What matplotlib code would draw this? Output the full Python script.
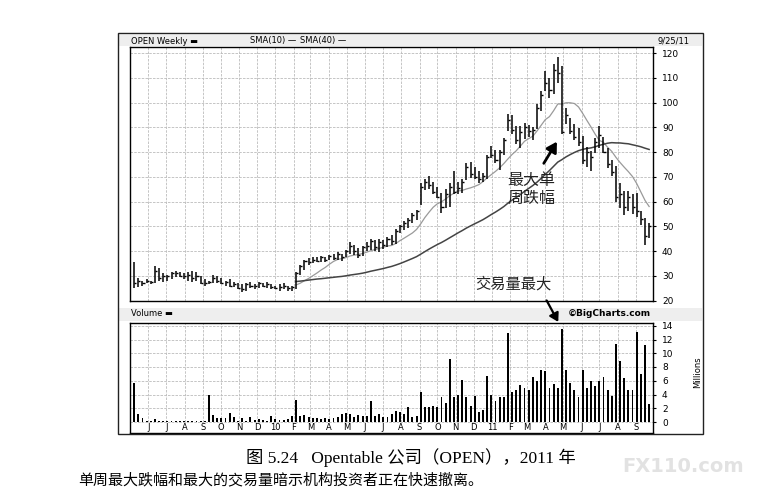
import matplotlib
matplotlib.use("Agg")
import matplotlib.pyplot as plt
import matplotlib.dates as mdates
from matplotlib.patches import Rectangle
import numpy as np
import pandas as pd

# weekly bars for OPEN, last week ending 9/23/2011
last_week = "2011-09-23"
n_weeks = 125

highs = [
    35.5, 29, 28, 28.5, 28, 34, 33, 31, 30.5, 31.5,
    32, 31.5, 31, 31.5, 32, 31.5, 30, 28.5, 28, 30.5,
    30, 29, 28, 28.5, 27.5, 27, 26.5, 27, 27.5, 26.5,
    27.5, 27, 27.5, 26.5, 26, 26.5, 27, 26, 26, 31.5,
    34.5, 36.5, 37, 37.5, 37.5, 38, 37.5, 38.5, 39, 39.7,
    39, 40.5, 43.8, 42.5, 41.3, 42, 43.5, 45, 44.5, 45,
    44.5, 45.8, 46.5, 49, 50.7, 52, 53.3, 55.3, 56.7, 67.5,
    69, 70.2, 68, 66, 63.4, 65, 67.5, 72.2, 68, 69,
    75.6, 76, 74, 72.2, 71.5, 79, 82.4, 81, 81, 85.8,
    95.3, 95, 90.5, 90.5, 91.9, 91, 90, 99.3, 104.8, 112.9,
    110, 115.6, 118.3, 114.9, 97.9, 93.9, 91.5, 89.8, 86.5, 82,
    80.4, 85.8, 90.5, 86, 81.7, 77, 74.3, 67.5, 64.1, 64.1,
    63, 63.4, 56, 53.2, 51.2,
]
lows = [
    25, 25.5, 26, 27, 26.5, 27, 28, 27.5, 28, 28.5,
    29.5, 29.5, 28.5, 28, 27.5, 28, 26.5, 26, 26.5, 27,
    27, 26.5, 26, 25.5, 25.5, 24.5, 23.5, 24, 25, 24.5,
    25, 25.5, 25, 24.5, 24.5, 24, 24.5, 24, 24, 24.5,
    30.5, 32.5, 34.5, 35, 35.5, 35.5, 35.5, 36.3, 36.5, 36.5,
    36, 37.5, 39, 38.5, 37, 38, 40, 40.5, 40, 39.5,
    41, 41.7, 42.5, 43, 47.2, 48.5, 49.2, 51.2, 52.6, 58.7,
    64.5, 65, 63, 61.4, 55.3, 57.5, 58, 62.9, 63, 63.5,
    68.9, 69.5, 69, 67.5, 68, 69, 77.6, 75.5, 72.9, 79,
    88.5, 87.5, 83.1, 81.7, 85.1, 86, 85, 89.2, 96.6, 104.8,
    102, 103.4, 108.1, 87.2, 91.2, 87.2, 85, 82.4, 75, 74,
    72.2, 79.7, 81.7, 79.5, 73.6, 70.5, 60, 57.3, 54.6, 56,
    55, 53.9, 50.5, 42.4, 45.1,
]
closes = [
    27, 28, 27, 28, 27.5, 32, 29, 30, 30, 31,
    31, 30, 30, 30.5, 29, 30, 27, 27, 27.5, 29,
    28, 27, 27.5, 26, 26.5, 25, 24.5, 26.5, 26, 26,
    27, 26, 26.5, 25.5, 25, 25.5, 26, 25, 25.5, 31,
    34, 36, 35.5, 36.5, 36, 37.5, 36.5, 38, 37, 39,
    37.5, 40, 42, 40, 38.5, 41.5, 42, 44, 41.5, 43.5,
    42.5, 45, 44, 48, 50, 51.5, 52.5, 54.5, 56, 66,
    68, 66.5, 64, 62, 58, 63, 66, 64, 65.5, 68,
    74, 71, 70, 69, 70.5, 78, 79, 77, 80, 85,
    93, 89, 85, 88, 90, 88.5, 89, 98, 103, 108,
    105, 113, 112, 88, 95, 88.5, 86, 84, 77, 80,
    78, 84, 87, 80, 75, 72, 62, 63, 58, 62,
    58, 56, 53, 46, 50,
]
# weekly volume, millions of shares
volume = [
    5.7, 1.1, 0.6, 0.2, 0.2, 0.5, 0.2, 0.1, 0.1, 0.1,
    0.1, 0.2, 0.2, 0.2, 0.2, 0.2, 0.2, 0.2, 4.0, 1.0,
    0.6, 0.6, 0.6, 1.3, 0.8, 0.2, 0.6, 0.2, 0.7, 0.3,
    0.5, 0.3, 0.2, 0.9, 0.4, 0.3, 0.3, 0.5, 0.9, 3.2,
    0.9, 1.0, 0.7, 0.6, 0.6, 0.5, 0.6, 0.5, 0.6, 0.8,
    1.1, 1.3, 1.2, 0.8, 1.0, 0.9, 0.9, 3.0, 0.9, 1.1,
    0.8, 0.8, 1.1, 1.6, 1.5, 1.1, 2.2, 0.8, 0.9, 4.4,
    2.2, 2.2, 2.3, 2.2, 3.6, 2.8, 9.1, 3.7, 3.9, 6.1,
    3.7, 2.3, 3.8, 1.4, 1.7, 6.7, 4.0, 3.1, 3.7, 3.7,
    12.9, 4.4, 4.7, 5.4, 5.0, 4.7, 6.6, 6.0, 7.5, 7.4,
    5.0, 5.6, 4.9, 13.6, 7.6, 5.7, 4.7, 3.7, 7.6, 4.9,
    6.0, 5.2, 6.0, 6.6, 4.7, 3.8, 11.4, 8.9, 6.4, 4.7,
    4.7, 13.1, 7.0, 11.2, 2.6,
]
price_ticks = [20, 30, 40, 50, 60, 70, 80, 90, 100, 110, 120]
volume_ticks = [0, 2, 4, 6, 8, 10, 12, 14]

dates = pd.date_range(end=last_week, periods=n_weeks, freq="W-FRI")
x = mdates.date2num(dates)
close_s = pd.Series(closes)
sma40 = close_s.rolling(40).mean()
sma10 = close_s.rolling(10).mean().where(sma40.notna())

months = pd.date_range("2009-06-01", "2011-09-01", freq="MS")
month_x = mdates.date2num(months)
month_labels = [str(m.year)[2:] if m.month == 1 else m.strftime("%b")[0] for m in months]

W, H = 757, 494
fig = plt.figure(figsize=(W / 100, H / 100), dpi=100)
fig.patch.set_facecolor("white")


def fx(px):
    return px / W


def fy(py):
    return 1 - py / H


# outer chart frame and header strips
fig.add_artist(Rectangle((fx(118), fy(434)), fx(703) - fx(118), fy(33) - fy(434),
                         transform=fig.transFigure, fill=False, lw=1.0, color="#222222"))
fig.add_artist(Rectangle((fx(119), fy(46)), fx(702) - fx(119), fy(35) - fy(46),
                         transform=fig.transFigure, color="#eeeeee", lw=0, zorder=0))
fig.add_artist(Rectangle((fx(119), fy(321)), fx(702) - fx(119), fy(308) - fy(321),
                         transform=fig.transFigure, color="#eeeeee", lw=0, zorder=0))

ax_p = fig.add_axes([fx(130), fy(300.5), fx(653) - fx(130), fy(47) - fy(300.5)])
ax_v = fig.add_axes([fx(130), fy(433), fx(653) - fx(130), fy(323) - fy(433)], sharex=ax_p)

grid_kw = dict(color="#bcbcbc", lw=0.6, linestyle=(0, (3, 1.5)))

# --- price panel ---
ax_p.vlines(x, lows, highs, color="black", lw=1.1, zorder=3)
ax_p.hlines(closes, x, x + 3.5, color="black", lw=1.0, zorder=3)
ax_p.plot(x, sma10, color="#9a9a9a", lw=0.9, zorder=2)
ax_p.plot(x, sma40, color="#444444", lw=1.1, zorder=2)
ax_p.set_ylim(20, 122.5)
ax_p.set_xlim(x[0] - 7, x[-1] + 6.5)
ax_p.set_yticks(price_ticks)
ax_p.set_xticks(month_x)
ax_p.grid(True, **grid_kw)
ax_p.set_axisbelow(True)
ax_p.yaxis.tick_right()
ax_p.tick_params(axis="y", length=2.5, width=0.8, labelsize=6.5, pad=4)
ax_p.tick_params(axis="x", length=0, labelbottom=False)
for s in ax_p.spines.values():
    s.set_linewidth(1.0)

# --- volume panel ---
ax_v.bar(x, volume, width=3.2, color="black", zorder=3)
ax_v.set_ylim(-1.6, 14.4)
ax_v.set_yticks(volume_ticks)
ax_v.yaxis.tick_right()
ax_v.grid(True, axis="y", **grid_kw)
ax_v.vlines(month_x, 0, 14.4, zorder=0, **grid_kw)
ax_v.set_xticks(month_x)
ax_v.set_xticklabels(month_labels)
ax_v.tick_params(axis="x", length=0, labelsize=6, pad=-7.5)
ax_v.tick_params(axis="y", length=2.5, width=0.8, labelsize=6.5, pad=4)
for s in ax_v.spines.values():
    s.set_linewidth(1.0)
ax_v.set_xlim(x[0] - 7, x[-1] + 6.5)

# header texts
hdr = dict(fontsize=6, family="DejaVu Sans", va="center")
fig.text(fx(131), fy(41), "OPEN Weekly \u25ac", **hdr)
fig.text(fx(250), fy(41), "SMA(10) \u2014", **hdr)
fig.text(fx(300), fy(41), "SMA(40) \u2014", **hdr)
fig.text(fx(690), fy(41), "9/25/11", ha="right", **hdr)
fig.text(fx(131), fy(314), "Volume \u25ac", **hdr)
fig.text(fx(651), fy(314), "\u00a9BigCharts.com", ha="right", fontsize=6.5,
         fontweight="bold", va="center")
fig.text(fx(698), fy(372), "Millions", rotation=90, ha="center", va="center", fontsize=6)

# annotations
cjk = ["Noto Sans CJK SC", "DejaVu Sans"]
drop = 103
ax_p.text(x[drop] - 52, 65, "最大单\n周跌幅", family=cjk, fontsize=11.5, ha="center",
          va="center", linespacing=1.1, color="#222222")
ax_p.annotate("", xy=(x[drop] - 6, lows[drop] - 2), xytext=(x[drop] - 33, 74.5),
              arrowprops=dict(arrowstyle="-|>,head_width=0.35,head_length=0.6",
                              lw=2.0, color="black"))
ax_p.text(x[drop] - 81, 26.5, "交易量最大", family=cjk, fontsize=11, ha="center",
          va="center", color="#222222")
ax_v.annotate("", xy=(x[drop] - 4, 14.2), xycoords=ax_v.transData,
              xytext=(x[drop] - 28, 21), textcoords=ax_p.transData,
              arrowprops=dict(arrowstyle="-|>,head_width=0.3,head_length=0.5",
                              lw=1.6, color="black"),
              annotation_clip=False)

# caption
cap = ["Liberation Serif", "Noto Sans CJK SC"]
fig.text(fx(411), fy(458), "图 5.24   Opentable 公司（OPEN），2011 年", family=cap,
         fontsize=12.5, ha="center", va="center")
fig.text(fx(78), fy(480), "单周最大跌幅和最大的交易量暗示机构投资者正在快速撤离。",
         family=cap, fontsize=10.8, ha="left", va="center")
fig.text(fx(683), fy(466), "FX110.com", fontsize=14, fontweight="bold",
         color="#e2e2e2", ha="center", va="center")

fig.savefig("out.png", dpi=100)
